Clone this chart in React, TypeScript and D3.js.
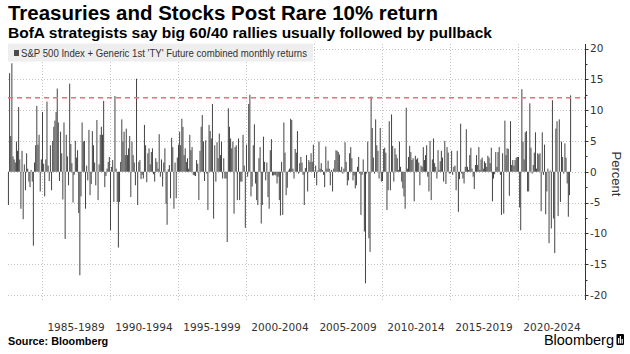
import * as d3 from 'd3'

const W = 630
const H = 354

// monthly combined returns (%), first row starts Jul 1982, last ends Nov 2023
const START_YEAR = 1982
const START_MONTH = 6

const RET_1982_1984 = [
  [-5.4, 16, 5.8, 17.6, 2.5, 2],
  [1.5, 4.9, 3.4, 10.5, 2, -6, 3.4, -7.7, 1.2, -3, 3, 0.5],
  [-1.6, -2.5, 0.3, -1.6, -12, 1.5, 4.3, 10.7, 4.4, 6, -3.2, 2],
]
const RET_1985_1989 = [
  [9.7, 1.3, -4, 2, 11.4, 1, -1.5, 4.3, -3, 5, 7.3, 8.3],
  [9.7, 13.5, 8, -1.5, 6.5, 3, -4.5, 8, -10.9, 6, 2.5, -2.2],
  [14.3, 4.5, 1.4, -5, -0.5, 5, 2.3, 3.5, -6.7, -16.8, -4, 8],
  [4.9, 5, -6, 1, -1.4, 6.8, -3.8, -2, 6.6, 4.3, 1.5, -2.2],
  [8.4, -4.6, 1.2, 6, 7.3, 6, 11.5, -2.5, -0.7, 0.5, 1.6, 2.4],
]
const RET_1990_1994 = [
  [-9.5, 0.8, 1.9, -4.9, 12.3, 0.5, -4.9, -12.3, -4.9, 1.6, 8.5, 4.9],
  [6.5, 2.7, 7, 2.7, 3.8, 5.8, -4.1, 4.9, 2.7, 1.5, -2.2, 15.1],
  [-5.4, 1.6, 1.9, -1.2, -0.5, -1.1, 7.6, 4.3, -1.7, 3, 3.8, 1.2],
  [3.2, 3.8, -0.4, -1.6, 2.2, 1.6, 0.5, 6.1, -0.8, 2, -2.4, 1.5],
  [3.8, -5.2, -8.6, 0.4, 1.1, -4.3, 5.5, 4, -6, 1.5, -4.3, 2.3],
]
const RET_1995_1999 = [
  [4.4, 6.5, 4.3, 8.6, 7.3, 2.7, 3.8, 1.6, 2.2, 0.5, 6, 3.5],
  [4, -0.5, -0.6, -0.7, 1.9, 1.3, -4.6, 3.4, 7.3, 9.2, 4.9, -1.5],
  [5.1, -0.3, -6.2, 7.6, 6.6, 5.4, 11, -7.6, 4.3, -1.6, 4.8, 2.2],
  [6.2, 2.7, 4.9, -1.1, 2.2, -1.1, -1.1, -11.4, 10.3, 7.3, 5.4, 3.8],
  [4.9, -6.8, 4, 4.3, -4.6, 5.4, -4.6, -1.6, -1.6, 6, 1, -9.1],
]
const RET_2000_2004 = [
  [4.4, -0.8, 11, 12.5, -4, -2.4, 4.3, 7.7, -1.9, -4.6, -5.4, 2.2],
  [4, -8.4, -5.4, 5.7, 1.6, -1.4, 1.5, -4.1, -6, 3.5, 5.3, -0.6],
  [-0.6, -0.5, -0.6, -1.9, -0.8, -4.6, -7.1, 1.6, -7, 8, 3.1, -3.8],
  [-2.6, 0.2, 0.5, 8.6, 8.4, 0.5, -1.1, 3.7, 3.1, 6.6, -0.3, 1.4],
  [2.4, 1.5, -0.5, -5.4, 0.6, 2.7, -3.2, 1.9, 1.6, 3, 1.6, 4.4],
]
const RET_2005_2009 = [
  [-1, 1, -2.2, 0.2, 4.9, 0.5, 1.4, 0.3, -0.5, -2.5, 4.1, 0.5],
  [1.8, 0.5, -2.2, 0.3, -3.2, 0.5, 1.9, 3.5, 3.4, 3.2, 2.8, 0.2],
  [0.8, -0.3, 0.5, 4.8, 1.6, -2.2, -1.4, 3, 4, 2.2, -1.4, -0.6],
  [-2.7, -2.2, 0.8, 2.4, -0.3, -7, -0.5, 2, -9.7, -18.1, -0.3, 4.9],
  [-10.8, -13, 12.2, 7.1, 2.3, -0.3, 8.5, 4.3, 3.4, -1.1, 7.1, -1.6],
]
const RET_2010_2014 = [
  [-1.5, 3.7, 3.9, 3.1, -6.2, -3, 8.2, -3, 9.3, 4.2, -1.6, 3.8],
  [2.8, 2.2, 0.3, 4.9, 0.8, -1.6, -2.7, -4, -6, 10.4, 0.5, 2.4],
  [4.2, 3.2, 1.9, 2.2, -4.8, 2.6, 2, 2.2, 1.5, -2.2, 1, 0.8],
  [4, 1.9, 2.7, 4.3, -0.8, -3.2, 5, -4.6, 2, 5.4, 1.4, 0.8],
  [-1.1, 3.5, 0.3, 1.7, 3.4, 2.3, -1.6, 5, -2, 4, 3.1, -0.3],
]
const RET_2015_2019 = [
  [-0.2, 3.4, -0.5, 0.8, 1, -3, 3.4, -6.5, -1.2, 7.8, -0.3, -1.1],
  [-1.9, 0.8, 6.9, 0.8, 0.3, 2.7, 3.9, 0.5, -0.8, -2.8, 1.1, 2.7],
  [1.1, 4, 0.3, 2, 2.3, 0.5, 1.7, 1.4, 0.8, 2.6, 2.3, 1.4],
  [3.9, -4.8, -1.1, -0.4, 3.2, 0.8, 3.2, 4, -0.5, -7, 3, -6.8],
  [8.3, 2.7, 3.8, 3.7, -3.9, 8.2, 1.1, 1.9, 1, 1.9, 2.3, 2.4],
]
const RET_2020_2023 = [
  [2.4, -5.8, -9.5, 13.4, 4.9, 2, 6.4, 6.6, -3.2, -3.2, 11.1, 3.9],
  [-0.3, 1.1, 3.1, 6.4, 0.5, 3, 2.8, 3, -6.4, 6.4, -0.5, 4.4],
  [-6.9, -3.2, 0.5, -11.6, 0.2, -9.2, 11.6, -7.6, -13.2, 7, 8.2, -7.2],
  [8.5, -4.9, 4.9, 2.4, -0.3, 4.6, 2.3, -1.9, -7.3, -3.8, 12.4],
]

const PERIOD_STARTS = [1985, 1990, 1995, 2000, 2005, 2010, 2015, 2020]
const PERIOD_LABELS = ['1985-1989', '1990-1994', '1995-1999', '2000-2004', '2005-2009', '2010-2014', '2015-2019', '2020-2024']
const Y_TICKS = [20, 15, 10, 5, 0, -5, -10, -15, -20]
const THRESHOLD = 12

const TITLE = 'Treasuries and Stocks Post Rare 10% return'
const SUBTITLE = 'BofA strategists say big 60/40 rallies usually followed by pullback'
const LEGEND = "S&P 500 Index + Generic 1st 'TY' Future combined monthly returns"

const ALL_YEARS = [
  ...RET_1982_1984, ...RET_1985_1989, ...RET_1990_1994, ...RET_1995_1999,
  ...RET_2000_2004, ...RET_2005_2009, ...RET_2010_2014, ...RET_2015_2019, ...RET_2020_2023,
]

const points: { date: Date; value: number }[] = []
ALL_YEARS.forEach((row, i) => {
  const year = START_YEAR + i
  const first = i === 0 ? START_MONTH : 0
  row.forEach((v, j) => points.push({ date: new Date(Date.UTC(year, first + j, 1)), value: v }))
})

const PLOT_LEFT = 8
const AXIS_X = 585.5
const PLOT_TOP = 44
const PLOT_BOTTOM = 300

const x = d3.scaleUtc()
  .domain([new Date(Date.UTC(1985, 0, 1)), new Date(Date.UTC(2025, 0, 1))])
  .range([42, 586])
const y = d3.scaleLinear().domain([-20, 20]).range([295, 48.5])

const FONT = '"DejaVu Sans", Verdana, sans-serif'
const SANS = '"Liberation Sans", Arial, sans-serif'

export default function App() {
  const y0 = y(0)
  return (
    <svg width={W} height={H} style={{ position: 'fixed', left: 0, top: 0, background: '#fff' }}>
      <rect width={W} height={H} fill="#fff" />
      <text x={8} y={19.5} fontFamily={SANS} fontWeight={700} fontSize={19.5} fill="#000"
        textLength={430} lengthAdjust="spacingAndGlyphs">{TITLE}</text>
      <text x={8} y={38} fontFamily={SANS} fontWeight={700} fontSize={14.5} fill="#000"
        textLength={484} lengthAdjust="spacingAndGlyphs">{SUBTITLE}</text>

      {/* horizontal grid */}
      {Y_TICKS.map(t => (
        <line key={'h' + t} x1={PLOT_LEFT} x2={AXIS_X} y1={Math.round(y(t)) + 0.5} y2={Math.round(y(t)) + 0.5}
          stroke="#c4c4c4" strokeDasharray="1,2" />
      ))}
      {/* vertical grid */}
      {PERIOD_STARTS.map(p => {
        const gx = Math.round(x(new Date(Date.UTC(p, 0, 1)))) + 0.5
        return <line key={'v' + p} x1={gx} x2={gx} y1={PLOT_TOP} y2={PLOT_BOTTOM} stroke="#c4c4c4" strokeDasharray="1,2" />
      })}

      {/* legend */}
      <rect x={8} y={43.5} width={305} height={18} fill="#eeeeee" />
      <rect x={14} y={50} width={5} height={6} fill="#4a4a4a" />
      <text x={21} y={56.5} fontFamily={SANS} fontSize={10} fill="#333" textLength={286} lengthAdjust="spacingAndGlyphs">{LEGEND}</text>

      {/* bars */}
      {points.map((d, i) => {
        const bx = x(d.date)
        const top = d.value >= 0 ? y(d.value) : y0
        const h = Math.abs(y(d.value) - y0)
        return <rect key={i} x={bx} y={top} width={1} height={h} fill="#444" />
      })}

      {/* threshold */}
      <line x1={PLOT_LEFT} x2={AXIS_X} y1={y(THRESHOLD)} y2={y(THRESHOLD)} stroke="#f06b7d" strokeWidth={1.5} strokeDasharray="5,4" />

      {/* right axis */}
      <line x1={AXIS_X} x2={AXIS_X} y1={PLOT_TOP} y2={PLOT_BOTTOM} stroke="#333" />
      {d3.range(-20, 20.1, 2.5).map(t => (
        <line key={'t' + t} x1={AXIS_X} x2={AXIS_X + (t % 5 === 0 ? 3 : 2)} y1={Math.round(y(t)) + 0.5} y2={Math.round(y(t)) + 0.5} stroke="#333" />
      ))}
      {Y_TICKS.map(t => (
        <text key={'l' + t} x={590} y={y(t) + 3.8} fontFamily={FONT} fontSize={10.5} fill="#333">{t}</text>
      ))}
      <text transform={`translate(612,174) rotate(90)`} textAnchor="middle" fontFamily={SANS} fontSize={13} fill="#333">Percent</text>

      {/* period labels */}
      {PERIOD_STARTS.map((p, i) => {
        const cx = (x(new Date(Date.UTC(p, 0, 1))) + x(new Date(Date.UTC(p + 5, 0, 1)))) / 2
        return <text key={'p' + p} x={cx} y={331} textAnchor="middle" fontFamily={FONT} fontSize={10.5} fill="#333">{PERIOD_LABELS[i]}</text>
      })}

      <text x={8} y={345} fontFamily={SANS} fontWeight={700} fontSize={10.8} fill="#000">Source: Bloomberg</text>
      <text x={614} y={345} textAnchor="end" fontFamily={SANS} fontSize={14.5} fill="#000">Bloomberg</text>
      <g transform="translate(616.5,334)">
        <rect width={7.5} height={11} rx={1} fill="#000" />
        <rect x={1.5} y={4} width={1.2} height={5.5} fill="#fff" />
        <rect x={3.3} y={2} width={1.2} height={7.5} fill="#fff" />
        <rect x={5.1} y={5} width={1.2} height={4.5} fill="#fff" />
      </g>
    </svg>
  )
}
